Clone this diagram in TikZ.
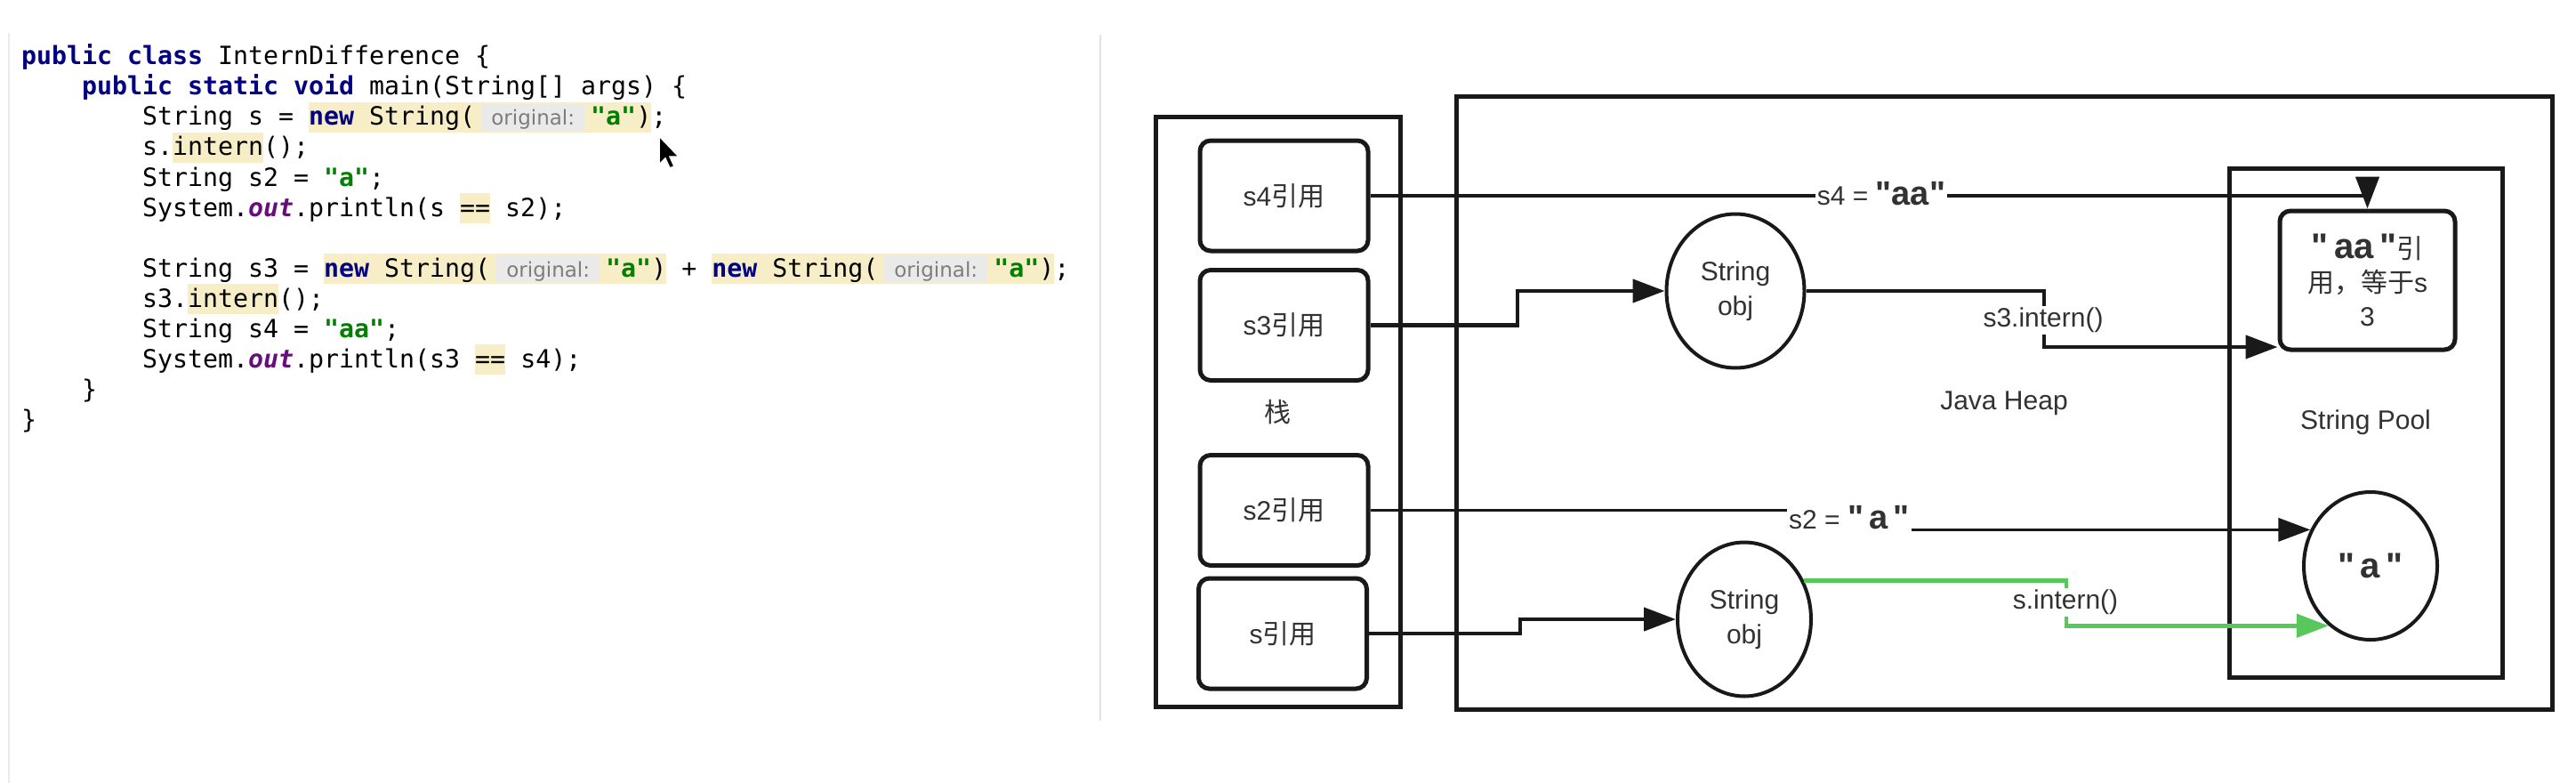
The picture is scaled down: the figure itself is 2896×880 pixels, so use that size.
\documentclass[tikz,border=0pt]{standalone}
\usepackage{fontspec}
\usetikzlibrary{arrows.meta,shapes.geometric}
\newfontfamily\codefont{DejaVu Sans Mono}
\newfontfamily\hintfont{DejaVu Sans}
\newfontfamily\lab{Liberation Sans}
\newfontfamily\cjk{Noto Sans CJK SC}
\definecolor{kw}{RGB}{0,0,128}
\definecolor{str}{RGB}{0,128,0}
\definecolor{fld}{RGB}{102,14,122}
\definecolor{hly}{RGB}{247,238,200}
\definecolor{hintbg}{RGB}{234,234,234}
\definecolor{hintfg}{RGB}{125,125,125}
\definecolor{ink}{RGB}{25,25,25}
\definecolor{txt}{RGB}{50,50,50}
\definecolor{grn}{RGB}{88,200,92}
\definecolor{sepc}{RGB}{226,226,226}
\newcommand\KW[1]{\textcolor{kw}{\bfseries #1}}
\newcommand\STR[1]{\textcolor{str}{\bfseries #1}}
\newcommand\FLD[1]{\textcolor{fld}{\bfseries\itshape #1}}
\newcommand\HL[1]{{\setlength{\fboxsep}{0pt}\colorbox{hly}{\rule[-8pt]{0pt}{34pt}#1}}}
\newcommand\HINT{{\setlength{\fboxsep}{0pt}\hspace*{7pt}\colorbox{hintbg}{\rule[-6pt]{0pt}{30pt}\makebox[116pt]{\hintfont\fontsize{23}{23}\selectfont\color{hintfg}original:}}\hspace*{7pt}}}
\begin{document}
\begin{tikzpicture}[x=1pt,y=-1pt,
  code/.style={font=\codefont\fontsize{28.24}{34}\selectfont, inner sep=0pt, anchor=base west, text=black},
  frame/.style={draw=ink, line width=5pt, inner sep=0pt, font=\lab\fontsize{30}{36}\selectfont, text=txt},
  refbox/.style={draw=ink, line width=5pt, rounded corners=12pt, minimum width=189pt, minimum height=124pt, inner sep=0pt, font=\lab\fontsize{30}{36}\selectfont, text=txt},
  obj/.style={ellipse, draw=ink, line width=4pt, inner sep=0pt, align=center, font=\lab\fontsize{30}{39}\selectfont, text=txt},
  lbl/.style={fill=white, inner sep=2pt, font=\lab\fontsize{30}{36}\selectfont, text=txt},
  arr/.style={draw=ink, line width=4.5pt, -{Triangle[length=36pt,width=26pt]}},
]
\useasboundingbox (0,0) rectangle (2896,880);
\fill[white] (0,0) rectangle (2896,880);

% ---------- code panel ----------
\draw[sepc!70!white, line width=2pt] (10,37) -- (10,880);
\draw[sepc, line width=2pt] (1237,39) -- (1237,810);

\node[code] (c1) at (24,73) {\KW{public class} InternDifference \{};
\node[code] (c2) at (92,107) {\KW{public static void} main(String[] args) \{};
\node[code] (c3) at (160,141) {String s = \HL{\KW{new} String(\HINT\STR{"a"})};};
\node[code] (c4) at (160,175) {s.\HL{intern}();};
\node[code] (c5) at (160,209) {String s2 = \STR{"a"};};
\node[code] (c6) at (160,243) {System.\FLD{out}.println(s \HL{==} s2);};
\node[code] (c8) at (160,311) {String s3 = \HL{\KW{new} String(\HINT\STR{"a"})} + \HL{\KW{new} String(\HINT\STR{"a"})};};
\node[code] (c9) at (160,345) {s3.\HL{intern}();};
\node[code] (c10) at (160,379) {String s4 = \STR{"aa"};};
\node[code] (c11) at (160,413) {System.\FLD{out}.println(s3 \HL{==} s4);};
\node[code] (c12) at (92,447) {\}};
\node[code] (c13) at (24,481) {\}};

% mouse cursor
\filldraw[fill=black, draw=white, line width=1.5pt] (741,153) -- (741,185) -- (748,178) -- (753,189) -- (758,187) -- (753,176) -- (763,176) -- cycle;

% ---------- diagram ----------
\node[frame, minimum width=1232pt, minimum height=688pt] (heap) at (2253,453) {Java Heap};
\node[frame, minimum width=307pt, minimum height=572pt] (pool) at (2659.5,475) {String Pool};
\node[frame, minimum width=275pt, minimum height=662pt] (stack) at (1436.5,463) {\cjk 栈};

\node[refbox] (s4box) at (1443.5,220) {s4{\cjk 引用}};
\node[refbox] (s3box) at (1443.5,365.5) {s3{\cjk 引用}};
\node[refbox] (s2box) at (1443.5,573.5) {s2{\cjk 引用}};
\node[refbox] (sbox) at (1442,712) {s{\cjk 引用}};

\node[obj, minimum width=155pt, minimum height=173pt] (tell) at (1951,327) {String\\obj};
\node[obj, minimum width=150pt, minimum height=173pt] (bell) at (1961,696) {String\\obj};
\node[obj, minimum width=150pt, minimum height=166pt, font=\lab\bfseries\fontsize{40}{40}\selectfont] (aell) at (2665,636) {"\,a\,"};
\node[refbox, minimum width=197pt, minimum height=156pt, align=center, font=\lab\fontsize{30}{38}\selectfont] (aabox) at (2661.5,315)
  {{\bfseries\fontsize{40}{40}\selectfont"\,aa\,"}{\cjk 引}\\{\cjk 用，等于}s\\3};

\coordinate (k1) at (1709,703);
\coordinate (k2) at (2080,583);
\coordinate (k3) at (2298,360);
\coordinate (k3b) at (0,390);
\coordinate (k4) at (2323,676);
\coordinate (k5) at (1706,346);

\draw[arr] (s4box.east) -| (aabox.north);
\draw[arr] (s3box.east) -| (k5) |- (tell.west);
\draw[arr] (tell.east) -| (k3) |- (aabox.west |- k3b);
\draw[arr, line width=3.5pt] (s2box.east) -| (k2) |- (aell.149);
\draw[arr] (sbox.east) -| (k1) |- (bell.west);
\draw[arr, draw=grn] (bell.33.5) -| (k4) |- (aell.235.4);

\node[lbl] (l4) at (2115,218) {s4 = {\bfseries\fontsize{38}{38}\selectfont"aa"}};
\node[lbl] (l2) at (2079,582) {s2 = {\bfseries\fontsize{38}{38}\selectfont"\,a\,"}};
\node[lbl] (l3) at (2297,360) {s3.intern()};
\node[lbl] (l1) at (2322,677) {s.intern()};
\end{tikzpicture}
\end{document}
